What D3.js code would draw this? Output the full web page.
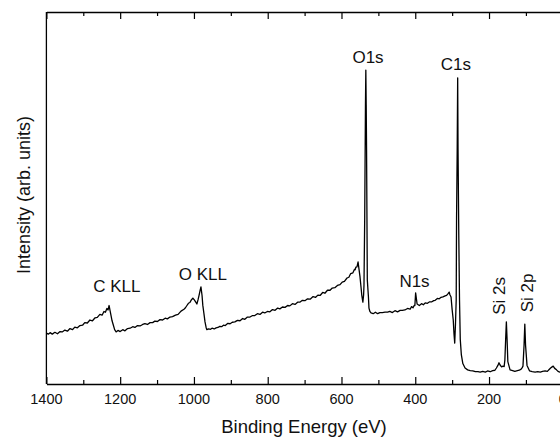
<!DOCTYPE html>
<html>
<head>
<meta charset="utf-8">
<script src="https://cdn.jsdelivr.net/npm/d3@7"></script>
<style>
  body { margin: 0; background: #fff; }
  svg { display: block; font-family: "Liberation Sans", Arial, sans-serif; }
</style>
</head>
<body>
<div id="graph"></div>
<script>
// XPS survey spectrum
// binding energy (eV) and intensity (arb. units, 0-100 scale)
var energy = [1400,1395,1390,1384,1377,1370,1363,1357,1350,1343,1336,1329,1323,1316,1309,1302,1296,1289,1282,1275,1268,1262,1255,1249,1244,1240,1236,1233,1230,1227,1222,1219,1215,1211,1206,1200,1193,1187,1180,1173,1166,1160,1153,1146,1139,1133,1126,1119,1112,1106,1099,1092,1085,1078,1072,1065,1058,1050,1043,1035,1027,1023,1019,1015,1011,1007,1003,999,995,992,989,986,983,981,978,976,973,970,967,965,960,955,951,945,940,935,930,925,920,915,908,902,896,889,882,875,868,862,855,848,841,835,828,821,814,808,801,794,787,780,773,767,760,753,746,740,733,726,719,713,706,699,692,685,677,670,664,658,651,645,638,631,625,618,611,604,598,592,585,580,575,569,565,563,561,558,555,553,550,547,545,542,540,539,537,535,534,533,532,530,527,525.5,523,520,514,508,502,496,489,482,475,469,462,455,448,441,435,428,421,414,410,406,403,401,399,395,389,383,378,373,367,361,355,350,346,340,335,330,325,319,315,311,308,306,303,300,297,295,293,291,289,288,286.3,285,284,282,280,278,275,271,265,258,251,244,237,230,224,217,210,204,197,190,184,180,176,173,170,166,162,159,157,155,153,151,149,143,136,130,123,118,113,110,108,105,103,101,97,90,83,75,68,61,55,48,42,37,33,29,26,22,17,13,8,2];
var intensity = [13.7,13.4,13.8,13.4,13.9,13.5,14.1,14.0,14.5,14.2,14.9,14.6,15.3,15.1,15.7,15.8,16.5,16.4,17.2,17.0,17.8,17.9,18.7,18.5,19.5,19.3,20.3,19.9,21.1,19.5,17.0,16.0,14.6,14.0,14.4,14.1,14.6,14.3,14.9,15.0,15.4,15.2,15.7,15.6,16.0,16.2,16.0,16.5,16.5,16.9,16.8,17.3,17.2,17.7,17.5,18.0,18.1,18.5,18.7,19.6,20.1,20.5,21.1,21.7,21.9,22.6,23.1,22.6,22.0,21.5,22.6,23.9,25.3,26.1,23.8,21.2,19.0,16.7,15.2,14.6,14.8,14.7,15.0,14.8,15.1,15.2,15.5,15.4,15.8,15.7,16.3,16.2,16.6,16.7,17.1,17.0,17.6,17.4,18.0,18.0,18.4,18.4,18.9,18.7,19.3,19.1,19.5,19.4,20.0,19.8,20.4,20.2,20.7,20.6,21.1,21.0,21.6,21.4,22.0,22.0,22.5,22.4,22.9,22.8,23.5,23.3,23.9,23.8,24.6,24.4,25.2,25.2,25.8,25.9,26.5,26.7,27.4,27.6,28.5,28.7,29.7,29.9,30.8,30.7,31.4,31.5,32.8,31.2,29.0,26.0,23.9,22.0,24.0,26.6,45.0,75.0,84.4,75.0,62.9,28.0,23.5,20.4,19.5,19.1,18.9,19.3,18.9,19.2,19.2,19.3,19.3,19.5,19.2,19.7,19.4,19.8,19.8,19.9,20.3,20.1,20.8,20.5,21.1,21.1,24.5,21.5,21.1,21.6,21.3,21.8,21.7,22.1,22.1,22.4,22.5,23.0,22.9,23.3,23.4,23.7,23.8,24.3,24.7,24.0,23.4,20.0,17.2,13.5,11.0,16.0,22.6,45.0,62.9,82.3,62.9,40.0,22.6,12.0,7.8,5.5,4.3,3.8,3.6,3.5,3.3,3.3,3.2,3.4,3.2,3.5,3.3,3.6,3.7,4.3,5.0,5.7,5.1,4.6,4.8,4.7,6.5,11.8,16.7,11.8,6.0,3.8,3.6,3.4,3.6,3.7,4.0,4.4,4.8,10.5,16.1,10.5,5.0,3.5,3.3,3.2,3.3,3.2,3.4,3.5,3.4,3.9,4.3,4.6,4.8,4.2,3.8,3.4,3.2,3.1,3.0];

// peak labels: position in eV and intensity level of the text baseline
var peakNames = ["C KLL", "O KLL", "O1s", "N1s", "C1s", "Si 2s", "Si 2p"];
var peakEnergy = [1209, 976, 528, 402, 290, 157, 81];
var peakLabelLevel = [24.7, 28.0, 86.3, 26.1, 84.4, 23.7, 24.5];
var peakVertical = [false, false, false, false, false, true, true];

var xTicks = [1400, 1200, 1000, 800, 600, 400, 200, 0];

var width = 560, height = 439;
var margin = { left: 46.4, top: 12, bottom: 55 };

var x = d3.scaleLinear().domain([1400, 0]).range([margin.left, 562.8]);
var y = d3.scaleLinear().domain([0, 100]).range([height - margin.bottom, margin.top]);

var svg = d3.select("#graph").append("svg")
    .attr("width", width)
    .attr("height", height);

var data = energy.map(function(e, i) { return { e: e, v: intensity[i] }; });

// spectrum
svg.append("path")
    .datum(data)
    .attr("fill", "none")
    .attr("stroke", "#000")
    .attr("stroke-width", 1.3)
    .attr("stroke-linejoin", "round")
    .attr("d", d3.line().x(function(d) { return x(d.e); }).y(function(d) { return y(d.v); }));

// bottom axis, ticks pointing inward
var minor = d3.range(1400, -1, -100);
var bottomAxis = svg.append("g")
    .attr("transform", "translate(0," + y(0) + ")")
    .call(d3.axisBottom(x).tickValues(minor).tickSizeOuter(0).tickFormat(""));
bottomAxis.selectAll(".tick line")
    .attr("y2", function(d) { return d % 200 === 0 ? -7 : -4; });

bottomAxis.selectAll("text.lbl")
    .data(xTicks)
    .enter().append("text")
    .attr("class", "lbl")
    .attr("x", function(d) { return x(d); })
    .attr("y", 20)
    .attr("text-anchor", "middle")
    .style("font-size", "14.5px")
    .style("fill", "#111")
    .text(function(d) { return d; });

// top axis, ticks pointing inward
var topAxis = svg.append("g")
    .attr("transform", "translate(0," + y(100) + ")")
    .call(d3.axisTop(x).tickValues(minor).tickSizeOuter(0).tickFormat(""));
topAxis.selectAll(".tick line")
    .attr("y2", function(d) { return d % 200 === 0 ? 7 : 4; });

// left axis line only
svg.append("line")
    .attr("x1", x(1400)).attr("x2", x(1400))
    .attr("y1", y(0)).attr("y2", y(100))
    .attr("stroke", "#000").attr("stroke-width", 1.3);

svg.selectAll(".domain").attr("stroke", "#000").attr("stroke-width", 1.3);
svg.selectAll(".tick line").attr("stroke", "#000").attr("stroke-width", 1.2);

// axis titles
svg.append("text")
    .attr("x", 304)
    .attr("y", 433)
    .attr("text-anchor", "middle")
    .style("font-size", "18.5px")
    .style("fill", "#111")
    .text("Binding Energy (eV)");

svg.append("text")
    .attr("transform", "translate(30,195) rotate(-90)")
    .attr("text-anchor", "middle")
    .style("font-size", "18px")
    .style("fill", "#111")
    .text("Intensity (arb. units)");

// peak labels
peakNames.forEach(function(name, i) {
    var t = svg.append("text")
        .style("font-size", "17px")
        .style("fill", "#111")
        .text(name);
    if (peakVertical[i]) {
        t.attr("transform", "translate(" + x(peakEnergy[i]) + "," + y(peakLabelLevel[i]) + ") rotate(-90)")
         .attr("text-anchor", "middle");
    } else {
        t.attr("x", x(peakEnergy[i])).attr("y", y(peakLabelLevel[i]))
         .attr("text-anchor", "middle");
    }
});
</script>
</body>
</html>
